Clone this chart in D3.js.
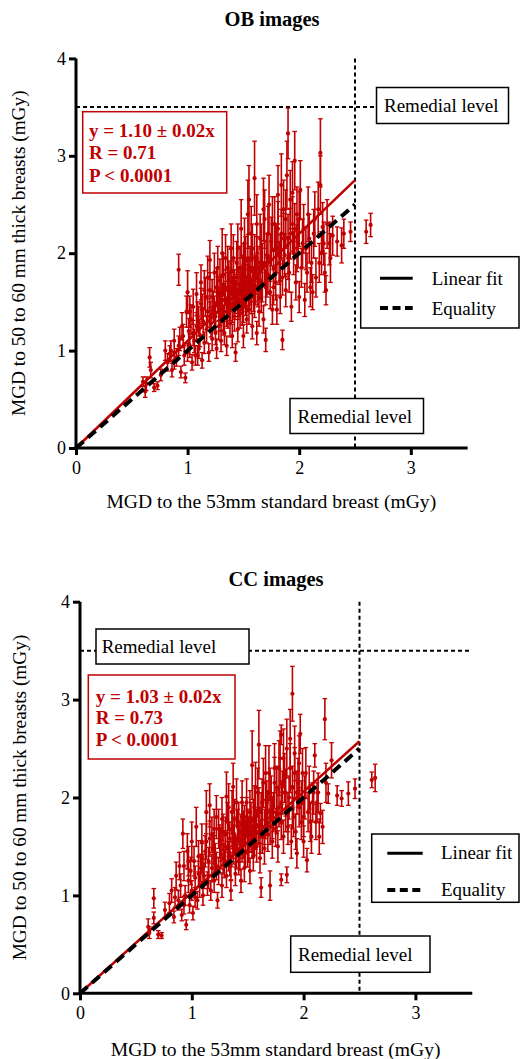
<!DOCTYPE html>
<html><head><meta charset="utf-8">
<script src="https://cdn.jsdelivr.net/npm/d3@7"></script>
<style>
html,body{margin:0;padding:0;background:#fff;}
svg text{font-family:"Liberation Serif","Times New Roman",serif;}
</style></head>
<body>
<svg id="chart" width="520" height="1059"></svg>
<script>
// ---------- DATA ----------
const xTicks = [0, 1, 2, 3];
const yTicks = [0, 1, 2, 3, 4];
const remedialX = 2.5;
const remedialY = 3.5;
const titles = ["OB images", "CC images"];
const xLabel = "MGD to the 53mm standard breast (mGy)";
const yLabel = "MGD to 50 to 60 mm thick breasts (mGy)";
const fitSlopes = [1.10, 1.03];
const fitTexts = [["y = 1.10 \u00b1 0.02x", "R = 0.71", "P < 0.0001"],
                  ["y = 1.03 \u00b1 0.02x", "R = 0.73", "P < 0.0001"]];
const legendLabels = ["Linear fit", "Equality"];

// OB points: [x, y, error]
const obPoints = [
[0.60,0.68,0.05],[0.62,0.58,0.06],[0.63,0.66,0.07],[0.66,0.93,0.10],[0.67,0.80,0.08],[0.70,0.62,0.04],
[0.73,0.64,0.04],[0.76,0.75,0.06],[0.80,1.00,0.10],[0.82,0.88,0.09],[0.84,0.97,0.08],[0.86,0.80,0.07],
[0.88,1.10,0.12],[0.90,0.93,0.09],[0.92,1.83,0.16],[0.92,1.05,0.10],[0.94,0.78,0.06],[0.95,1.25,0.14],
[0.96,1.15,0.12],[0.98,0.72,0.05],[0.99,1.40,0.16],[1.00,1.60,0.22],[1.00,0.98,0.09],[1.01,1.20,0.13],
[1.02,1.05,0.12],[1.03,1.32,0.15],[1.04,0.88,0.08],[1.05,1.45,0.18],[1.06,1.10,0.12],[1.07,0.95,0.10],
[1.08,1.58,0.22],[1.08,1.25,0.14],[1.09,1.35,0.15],[1.10,1.02,0.10],[1.11,1.16,0.12],[1.12,1.48,0.16],
[1.12,1.70,0.18],[1.13,0.90,0.08],[1.14,1.30,0.14],[1.15,1.08,0.11],[1.16,1.55,0.20],[1.17,1.22,0.14],
[1.18,1.40,0.16],[1.19,0.98,0.09],[1.20,1.93,0.20],[1.20,1.62,0.18],[1.21,1.28,0.14],[1.22,1.12,0.12],
[1.23,1.45,0.16],[1.24,1.80,0.20],[1.25,1.18,0.12],[1.25,1.35,0.15],[1.26,1.02,0.10],[1.27,1.58,0.18],
[1.28,1.25,0.14],[1.29,1.72,0.22],[1.29,1.42,0.16],[1.30,1.10,0.11],[1.31,2.00,0.25],[1.31,1.52,0.17],
[1.32,1.30,0.14],[1.33,1.18,0.12],[1.34,1.65,0.18],[1.35,1.40,0.15],[1.35,1.05,0.10],[1.36,1.85,0.22],
[1.37,1.50,0.16],[1.38,1.28,0.14],[1.38,1.62,0.18],[1.39,2.05,0.25],[1.40,1.45,0.16],[1.40,1.15,0.12],
[1.41,1.72,0.20],[1.42,1.35,0.15],[1.43,1.55,0.17],[1.43,0.98,0.09],[1.44,1.90,0.22],[1.45,1.48,0.16],
[1.45,1.22,0.13],[1.46,1.68,0.18],[1.47,1.38,0.15],[1.48,1.58,0.17],[1.48,2.25,0.30],[1.49,1.78,0.20],
[1.50,1.45,0.16],[1.50,1.15,0.12],[1.51,1.65,0.18],[1.52,1.92,0.25],[1.52,1.52,0.16],[1.53,1.32,0.14],
[1.54,2.40,0.35],[1.54,1.70,0.18],[1.55,2.55,0.35],[1.55,1.60,0.17],[1.55,1.42,0.15],[1.56,1.85,0.22],
[1.57,1.55,0.17],[1.58,1.25,0.13],[1.58,2.05,0.25],[1.59,1.68,0.18],[1.60,2.77,0.38],[1.60,1.50,0.16],
[1.61,1.78,0.20],[1.62,1.18,0.12],[1.62,1.95,0.22],[1.63,1.62,0.17],[1.64,1.40,0.15],[1.65,2.15,0.25],
[1.65,1.72,0.18],[1.66,1.55,0.16],[1.67,1.88,0.22],[1.68,1.32,0.14],[1.69,2.35,0.30],[1.70,1.65,0.18],
[1.70,1.11,0.12],[1.71,1.98,0.22],[1.72,1.78,0.20],[1.73,2.50,0.30],[1.74,1.60,0.17],[1.75,2.12,0.25],
[1.76,1.42,0.15],[1.77,1.85,0.20],[1.78,2.30,0.28],[1.79,1.70,0.18],[1.80,1.42,0.15],[1.80,2.05,0.25],
[1.81,2.60,0.30],[1.82,1.90,0.22],[1.83,1.55,0.17],[1.84,2.20,0.25],[1.85,1.11,0.10],[1.85,1.75,0.18],
[1.86,2.45,0.30],[1.87,1.98,0.22],[1.88,1.62,0.17],[1.89,2.80,0.35],[1.90,3.23,0.26],[1.90,2.15,0.25],
[1.91,1.80,0.20],[1.92,2.55,0.30],[1.93,1.45,0.15],[1.94,2.30,0.28],[1.95,2.00,0.22],[1.96,2.95,0.30],
[1.97,1.70,0.18],[1.98,2.40,0.28],[1.99,2.10,0.25],[2.00,1.55,0.16],[2.01,2.65,0.30],[2.02,1.85,0.20],
[2.04,2.25,0.25],[2.05,1.52,0.17],[2.06,2.05,0.22],[2.08,2.40,0.28],[2.10,1.65,0.20],[2.11,1.90,0.20],
[2.13,2.20,0.25],[2.15,1.75,0.20],[2.17,2.45,0.28],[2.19,3.03,0.35],[2.19,2.70,0.30],[2.20,2.00,0.22],
[2.21,2.27,0.25],[2.23,1.80,0.20],[2.25,2.30,0.25],[2.27,2.10,0.22],[2.28,1.95,0.25],[2.30,2.18,0.20],
[2.34,2.12,0.15],[2.38,2.08,0.18],[2.40,2.20,0.15],[2.46,2.22,0.10],[2.60,2.22,0.12],[2.64,2.29,0.12],
[1.10,1.30,0.15],[1.13,1.42,0.16],[1.15,1.62,0.20],[1.18,1.75,0.22],[1.20,1.35,0.15],[1.22,1.55,0.18],
[1.24,1.40,0.16],[1.26,1.65,0.20],[1.27,1.85,0.22],[1.28,1.48,0.17],[1.30,1.60,0.18],[1.30,1.35,0.15],
[1.32,1.78,0.22],[1.33,1.52,0.17],[1.34,1.95,0.24],[1.36,1.62,0.18],[1.36,1.38,0.15],[1.37,1.72,0.20],
[1.38,1.48,0.17],[1.39,1.82,0.22],[1.40,1.58,0.18],[1.41,1.95,0.24],[1.42,1.65,0.18],[1.42,1.48,0.16],
[1.44,1.75,0.20],[1.44,1.60,0.18],[1.45,2.05,0.25],[1.46,1.52,0.17],[1.47,1.85,0.22],[1.48,1.68,0.18],
[1.49,1.42,0.16],[1.50,1.88,0.22],[1.50,1.62,0.18],[1.51,2.10,0.26],[1.52,1.75,0.20],[1.53,1.58,0.18],
[1.54,1.95,0.24],[1.55,1.75,0.20],[1.56,1.65,0.18],[1.57,2.20,0.28],[1.58,1.82,0.22],[1.59,1.58,0.18],
[1.60,1.95,0.24],[1.61,1.65,0.18],[1.62,2.30,0.30],[1.63,1.85,0.22],[1.64,1.72,0.20],[1.66,2.05,0.25],
[1.67,1.68,0.18],[1.68,2.45,0.32],[1.69,1.90,0.22],[1.71,1.75,0.20],[1.72,2.20,0.28],[1.74,1.95,0.24],
[1.76,2.30,0.28],[1.77,1.65,0.18],[1.79,2.05,0.25],[1.81,2.25,0.28],[1.83,1.95,0.24],[1.84,2.70,0.32],
[1.86,2.15,0.26],[1.88,2.35,0.30],[1.90,1.95,0.22],[1.92,2.20,0.26],[1.94,2.62,0.32],[1.96,2.25,0.26],
[1.98,2.05,0.24],[2.00,2.35,0.28],[2.03,2.10,0.25],[2.07,1.80,0.20],[2.09,2.15,0.25],[2.12,1.60,0.18],
[2.14,2.35,0.28],[2.18,1.90,0.20],[2.22,2.10,0.22],[2.24,1.62,0.15],[0.85,1.00,0.10],[0.88,0.90,0.09],
[0.93,1.12,0.12],[0.97,0.95,0.10],[1.02,1.40,0.16],[1.05,1.18,0.13],[1.09,0.95,0.10]
];

// CC points: [x, y, error]
const ccPoints = [
[0.61,0.68,0.08],[0.62,0.62,0.06],[0.66,0.97,0.10],[0.66,0.77,0.06],[0.70,0.60,0.04],[0.73,0.59,0.03],
[0.76,0.85,0.08],[0.80,0.92,0.10],[0.82,1.05,0.12],[0.84,0.78,0.06],[0.86,1.20,0.14],[0.88,0.95,0.10],
[0.90,1.10,0.12],[0.91,0.80,0.06],[0.92,1.63,0.15],[0.93,1.30,0.15],[0.94,1.00,0.10],[0.95,0.70,0.05],
[0.96,1.45,0.18],[0.97,1.15,0.12],[0.98,0.90,0.08],[0.99,1.25,0.14],[1.00,1.55,0.20],[1.00,1.05,0.10],
[1.01,0.82,0.07],[1.02,1.35,0.15],[1.03,1.18,0.12],[1.04,1.70,0.20],[1.05,0.95,0.09],[1.06,1.40,0.16],
[1.07,1.10,0.12],[1.08,1.28,0.14],[1.09,1.55,0.18],[1.10,1.00,0.10],[1.11,1.20,0.13],[1.12,1.45,0.16],
[1.13,1.85,0.22],[1.14,1.12,0.12],[1.15,1.35,0.14],[1.16,1.92,0.22],[1.16,1.58,0.18],[1.17,1.05,0.10],
[1.18,1.28,0.14],[1.19,1.48,0.16],[1.20,1.68,0.20],[1.20,1.15,0.12],[1.21,1.38,0.15],[1.22,1.80,0.22],
[1.23,0.95,0.08],[1.24,1.25,0.14],[1.25,1.55,0.17],[1.26,1.42,0.15],[1.27,1.10,0.12],[1.28,1.65,0.18],
[1.29,1.32,0.14],[1.30,1.50,0.16],[1.31,2.01,0.25],[1.31,1.20,0.12],[1.32,1.75,0.20],[1.33,1.40,0.15],
[1.34,1.58,0.17],[1.35,1.05,0.10],[1.35,1.30,0.14],[1.36,1.85,0.22],[1.37,2.11,0.24],[1.37,1.48,0.16],
[1.38,1.62,0.18],[1.39,1.22,0.12],[1.40,1.42,0.15],[1.41,1.70,0.18],[1.42,1.35,0.14],[1.43,1.55,0.17],
[1.44,1.15,0.12],[1.45,1.95,0.22],[1.45,1.50,0.16],[1.46,1.68,0.18],[1.47,1.28,0.14],[1.48,1.60,0.17],
[1.49,1.80,0.20],[1.50,1.45,0.16],[1.51,1.62,0.18],[1.52,1.25,0.13],[1.53,1.75,0.20],[1.54,2.33,0.35],
[1.54,1.55,0.17],[1.55,1.40,0.15],[1.56,1.90,0.22],[1.57,1.65,0.18],[1.58,1.50,0.16],[1.59,2.05,0.25],
[1.60,2.54,0.35],[1.60,1.72,0.18],[1.61,1.38,0.15],[1.62,1.08,0.10],[1.62,1.85,0.20],[1.63,1.60,0.17],
[1.64,2.15,0.25],[1.65,1.48,0.16],[1.66,1.78,0.20],[1.67,1.95,0.22],[1.68,1.62,0.17],[1.69,2.25,0.28],
[1.70,1.10,0.15],[1.70,1.70,0.18],[1.71,2.00,0.22],[1.72,1.55,0.17],[1.73,1.85,0.20],[1.74,2.30,0.25],
[1.75,1.68,0.18],[1.76,2.10,0.22],[1.77,1.50,0.16],[1.78,1.90,0.20],[1.79,2.40,0.28],[1.80,2.64,0.10],
[1.80,1.16,0.06],[1.80,1.75,0.18],[1.81,2.05,0.22],[1.82,1.60,0.17],[1.83,2.20,0.25],[1.84,1.85,0.20],
[1.85,1.21,0.08],[1.85,2.50,0.30],[1.86,1.70,0.18],[1.87,2.00,0.22],[1.88,2.30,0.25],[1.89,1.55,0.17],
[1.90,3.06,0.28],[1.90,2.10,0.22],[1.91,1.80,0.20],[1.92,2.45,0.28],[1.93,1.65,0.18],[1.94,1.43,0.15],
[1.95,2.15,0.25],[1.96,1.90,0.20],[1.97,2.65,0.20],[1.98,1.75,0.18],[1.99,2.25,0.25],[2.00,1.55,0.16],
[2.01,2.00,0.22],[2.03,1.36,0.12],[2.04,1.85,0.20],[2.05,2.10,0.22],[2.07,1.60,0.17],[2.08,1.95,0.20],
[2.10,2.43,0.12],[2.11,1.75,0.18],[2.13,2.05,0.20],[2.15,1.84,0.10],[2.17,1.70,0.17],[2.19,2.80,0.21],
[2.20,2.15,0.20],[2.22,2.04,0.10],[2.25,2.38,0.18],[2.30,2.02,0.10],[2.34,1.99,0.08],[2.40,2.04,0.12],
[2.46,2.09,0.10],[2.61,2.18,0.08],[2.64,2.20,0.14],
[1.10,1.28,0.14],[1.13,1.55,0.18],[1.15,1.20,0.13],[1.18,1.62,0.18],[1.20,1.45,0.16],[1.22,1.30,0.14],
[1.24,1.68,0.20],[1.26,1.52,0.17],[1.27,1.78,0.22],[1.28,1.38,0.15],[1.30,1.62,0.18],[1.32,1.48,0.16],
[1.33,1.90,0.24],[1.34,1.35,0.15],[1.36,1.68,0.18],[1.37,1.55,0.17],[1.38,1.78,0.20],[1.39,1.45,0.16],
[1.40,1.95,0.24],[1.41,1.58,0.17],[1.42,1.75,0.20],[1.43,1.42,0.16],[1.44,1.65,0.18],[1.45,1.80,0.20],
[1.46,1.55,0.17],[1.47,1.72,0.20],[1.48,1.45,0.16],[1.49,1.95,0.24],[1.50,1.70,0.18],[1.51,1.50,0.16],
[1.52,1.85,0.22],[1.53,1.62,0.18],[1.55,1.78,0.20],[1.56,1.58,0.17],[1.57,2.10,0.26],[1.58,1.70,0.18],
[1.60,1.88,0.22],[1.61,1.60,0.17],[1.63,1.95,0.24],[1.65,1.70,0.18],[1.66,2.25,0.28],[1.68,1.85,0.22],
[1.70,2.05,0.25],[1.72,1.78,0.20],[1.74,2.15,0.26],[1.76,1.85,0.22],[1.78,2.30,0.28],[1.80,1.95,0.22],
[1.82,2.40,0.30],[1.84,2.05,0.24],[1.86,1.85,0.20],[1.88,2.60,0.30],[1.90,1.90,0.22],[1.92,2.25,0.26],
[1.94,2.05,0.22],[1.96,2.35,0.28],[1.98,1.95,0.22],[2.00,1.80,0.20],[2.02,2.25,0.26],[2.06,1.75,0.20],
[2.09,2.05,0.22],[2.12,1.95,0.20],[2.14,1.60,0.18],[0.85,0.98,0.10],[0.89,1.30,0.14],[0.93,0.90,0.09],
[0.97,1.35,0.15],[1.03,0.98,0.10],[1.06,1.22,0.13],[1.09,1.38,0.15]
];

// ---------- LAYOUT ----------
const RED = "#c00000";
const FONT = 19;
const panels = [
  { points: obPoints, title: titles[0], slope: fitSlopes[0], fit: fitTexts[0],
    x0: 76, x1: 466.6, yBottom: 448, yTop: 58.4, titleX: 272, titleY: 26,
    xLabelY: 508, yLabelX: 25,
    fitBox: [82.7, 111.7, 144, 81.3], fitText: [89, 136.7, 22.5],
    remTop: [376.5, 87.5, 132, 36], remTopText: [384, 112],
    remBot: [290, 398.5, 133.5, 35], remBotText: [297.5, 423.3],
    legBox: [360.7, 256.7, 158.3, 71.3], legSample: [380, 412.7], legRows: [278.3, 308], legText: [431.7, 6.5] },
  { points: ccPoints, title: titles[1], slope: fitSlopes[1], fit: fitTexts[1],
    x0: 80, x1: 471.3, yBottom: 993.3, yTop: 601.7, titleX: 276, titleY: 586,
    xLabelY: 1056, yLabelX: 26,
    fitBox: [88.3, 675, 146.7, 84], fitText: [95.7, 702.7, 21.7],
    remTop: [96, 629, 153, 35], remTopText: [101.7, 652.7],
    remBot: [290.7, 936, 139.3, 36.3], remBotText: [298, 960.7],
    legBox: [371.7, 834, 147.3, 68.3], legSample: [387.3, 422.7], legRows: [853.3, 890], legText: [441, 6] }
];

const svg = d3.select("#chart");

function rect(g, b, stroke, sw) {
  return g.append("rect").attr("x", b[0]).attr("y", b[1]).attr("width", b[2]).attr("height", b[3])
    .attr("fill", "#fff").attr("stroke", stroke).attr("stroke-width", sw);
}

panels.forEach(p => {
  const g = svg.append("g");
  const x = d3.scaleLinear().domain([0, 3.5]).range([p.x0, p.x1]);
  const y = d3.scaleLinear().domain([0, 4]).range([p.yBottom, p.yTop]);

  // title
  g.append("text").attr("x", p.titleX).attr("y", p.titleY).attr("text-anchor", "middle")
    .attr("font-weight", "bold").attr("font-size", 20.5).text(p.title);

  // remedial lines
  g.append("line").attr("x1", x(0)).attr("x2", x(3.5)).attr("y1", y(remedialY)).attr("y2", y(remedialY))
    .attr("stroke", "#000").attr("stroke-width", 2).attr("stroke-dasharray", "4,3");
  g.append("line").attr("x1", x(remedialX)).attr("x2", x(remedialX)).attr("y1", y(4)).attr("y2", y(0))
    .attr("stroke", "#000").attr("stroke-width", 2).attr("stroke-dasharray", "4,3");

  // error bars and points
  const pts = g.append("g");
  const cap = 2.3;
  p.points.forEach(d => {
    const cx = x(d[0]);
    pts.append("line").attr("x1", cx).attr("x2", cx).attr("y1", y(d[1] - d[2])).attr("y2", y(d[1] + d[2]))
      .attr("stroke", RED).attr("stroke-width", 1.6);
    [d[1] - d[2], d[1] + d[2]].forEach(v => {
      pts.append("line").attr("x1", cx - cap).attr("x2", cx + cap).attr("y1", y(v)).attr("y2", y(v))
        .attr("stroke", RED).attr("stroke-width", 1.3);
    });
    pts.append("circle").attr("cx", cx).attr("cy", y(d[1])).attr("r", 2.1).attr("fill", RED);
  });

  // linear fit & equality
  g.append("line").attr("x1", x(0)).attr("y1", y(0)).attr("x2", x(remedialX)).attr("y2", y(p.slope * remedialX))
    .attr("stroke", RED).attr("stroke-width", 2.5);
  g.append("line").attr("x1", x(0)).attr("y1", y(0)).attr("x2", x(remedialX)).attr("y2", y(remedialX))
    .attr("stroke", "#000").attr("stroke-width", 4).attr("stroke-dasharray", "10,6");

  // axes
  const xAxis = d3.axisBottom(x).tickValues(xTicks).tickSize(7).tickPadding(6).tickFormat(d3.format("d"));
  const yAxis = d3.axisLeft(y).tickValues(yTicks).tickSize(7).tickPadding(3).tickFormat(d3.format("d"));
  const gx = g.append("g").attr("transform", `translate(0,${p.yBottom})`).call(xAxis);
  const gy = g.append("g").attr("transform", `translate(${p.x0},0)`).call(yAxis);
  [gx, gy].forEach(a => {
    a.select(".domain").attr("stroke", "#000").attr("stroke-width", 3);
    a.selectAll(".tick line").attr("stroke", "#000").attr("stroke-width", 3);
    a.selectAll(".tick text").attr("font-family", "Liberation Serif, serif").attr("font-size", 18).attr("fill", "#000");
  });
  gx.select(".domain").attr("d", `M${p.x0 - 1.5},0H${p.x1 + 1}`);
  gy.select(".domain").attr("d", `M0,${p.yBottom + 1.5}V${p.yTop}`);

  // axis labels
  g.append("text").attr("x", (p.x0 + p.x1) / 2).attr("y", p.xLabelY).attr("text-anchor", "middle")
    .attr("font-size", 19.6).text(xLabel);
  g.append("text").attr("transform", `translate(${p.yLabelX},${(p.yBottom + p.yTop) / 2}) rotate(-90)`)
    .attr("text-anchor", "middle").attr("font-size", 19.3).text(yLabel);

  // remedial boxes
  rect(g, p.remTop, "#000", 1.5);
  g.append("text").attr("x", p.remTopText[0]).attr("y", p.remTopText[1]).attr("font-size", FONT).text("Remedial level");
  rect(g, p.remBot, "#000", 1.5);
  g.append("text").attr("x", p.remBotText[0]).attr("y", p.remBotText[1]).attr("font-size", FONT).text("Remedial level");

  // fit text box
  rect(g, p.fitBox, RED, 1.5);
  p.fit.forEach((t, i) => {
    g.append("text").attr("x", p.fitText[0]).attr("y", p.fitText[1] + i * p.fitText[2])
      .attr("font-size", FONT).attr("font-weight", "bold").attr("fill", RED).text(t);
  });

  // legend
  rect(g, p.legBox, "#000", 1.5);
  g.append("line").attr("x1", p.legSample[0]).attr("x2", p.legSample[1]).attr("y1", p.legRows[0]).attr("y2", p.legRows[0])
    .attr("stroke", "#000").attr("stroke-width", 3);
  g.append("line").attr("x1", p.legSample[0]).attr("x2", p.legSample[1]).attr("y1", p.legRows[1]).attr("y2", p.legRows[1])
    .attr("stroke", "#000").attr("stroke-width", 4).attr("stroke-dasharray", "8,4.5");
  legendLabels.forEach((t, i) => {
    g.append("text").attr("x", p.legText[0]).attr("y", p.legRows[i] + p.legText[1]).attr("font-size", FONT).text(t);
  });
});
</script>
</body></html>
